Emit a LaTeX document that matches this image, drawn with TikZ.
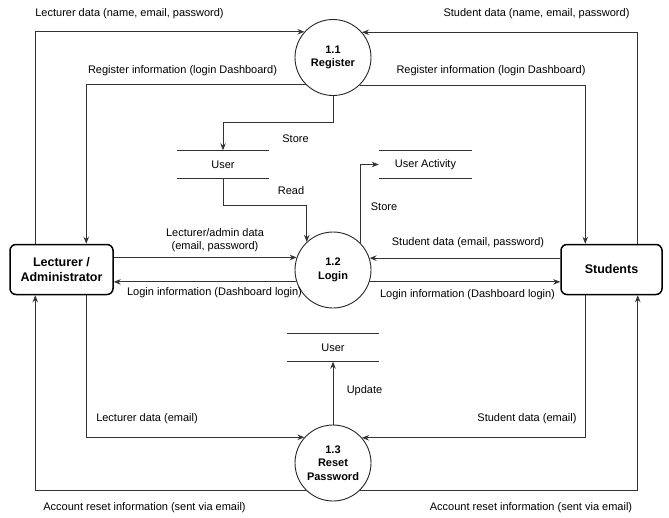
\documentclass[tikz,border=0pt]{standalone}
\usepackage{fontspec}
\setmainfont{Liberation Sans}
\usetikzlibrary{arrows.meta}
\begin{document}
\begin{tikzpicture}[x=1pt,y=-1pt,
  lbl/.style={font=\fontsize{11}{13}\selectfont, inner sep=0pt, align=center},
  entity/.style={draw, line width=1.5pt, rounded corners=6pt, align=center, inner sep=0pt,
    minimum height=50pt, font=\bfseries\fontsize{12.5}{15}\selectfont},
  proc/.style={circle, draw=black!85, line width=0.9pt, minimum size=76pt, inner sep=0pt,
    align=center, font=\bfseries\fontsize{11}{13.5}\selectfont},
  store/.style={minimum height=28pt, inner sep=0pt, font=\fontsize{11}{13}\selectfont},
  storeline/.style={draw=black!80, line width=0.9pt},
  flow/.style={draw=black!80, line width=0.9pt, -{Stealth[length=7pt,width=5.5pt]}},
  ]
\useasboundingbox (0,0) rectangle (669,517);

% external entities
\node[entity, minimum width=103pt] (lect) at (61.5,269.5) {Lecturer /\\Administrator};
\node[entity, minimum width=101pt] (stud) at (611.5,269.5) {Students};

% processes
\node[proc] (reg)   at (333,57.5) {1.1\\Register};
\node[proc] (login) at (333,270)  {1.2\\Login};
\node[proc] (reset) at (333,463)  {1.3\\Reset\\Password};

% data stores
\node[store, minimum width=92pt] (user1) at (223,164.5) {User};
\node[store, minimum width=93pt] (act)   at (425.5,164.5) {User Activity};
\node[store, minimum width=92pt] (user2) at (333,347.5) {User};
\foreach \s in {user1,act,user2}
  \draw[storeline] (\s.north west) -- (\s.north east) (\s.south west) -- (\s.south east);

% registration flows
\draw[flow] ([xshift=26pt]lect.north west) |- (reg.138.5);
\draw[flow] ([xshift=-25pt]stud.north east) |- (reg.41.5);
\draw[flow] (reg.225.6) -| ([xshift=77pt]lect.north west);
\draw[flow] (reg.314.4) -| ([xshift=25pt]stud.north west);
\draw[flow] (reg.south) -- ++(0,26) -| (user1.north);

% login flows
\draw[flow] (user1.south) -- ++(0,27) -| (login.133);
\draw[flow] (lect.east |- login.161.6) -- (login.161.6);
\draw[flow] (login.198.4) -- (login.198.4 -| lect.east);
\draw[flow] (stud.west |- login.18.4) -- (login.18.4);
\draw[flow] (login.-18.4) -- (login.-18.4 -| stud.west);
\draw[flow] (login.44.7) |- (act.west);

% password reset flows
\draw[flow] (reset.north) -- (user2.south);
\draw[flow] ([xshift=77pt]lect.south west) |- (reset.138.9);
\draw[flow] ([xshift=25pt]stud.south west) |- (reset.41.1);
\draw[flow] (reset.225.3) -| ([xshift=26pt]lect.south west);
\draw[flow] (reset.314.7) -| ([xshift=-25pt]stud.south east);

% flow labels
\node[lbl] (t1)  at (129.5,14)  {Lecturer data (name, email, password)};
\node[lbl] (t2)  at (536.5,14)  {Student data (name, email, password)};
\node[lbl] (t3)  at (182.5,71)  {Register information (login Dashboard)};
\node[lbl] (t4)  at (491,71)    {Register information (login Dashboard)};
\node[lbl] (t5)  at (295.5,139) {Store};
\node[lbl] (t6)  at (291,191)   {Read};
\node[lbl, align=center] (t7) at (215,240) {Lecturer/admin data\\(email, password)};
\node[lbl] (t8)  at (214.5,293) {Login information (Dashboard login)};
\node[lbl] (t9)  at (384,207)   {Store};
\node[lbl] (t10) at (468,243)   {Student data (email, password)};
\node[lbl] (t11) at (467.5,295) {Login information (Dashboard login)};
\node[lbl] (t12) at (364.5,391) {Update};
\node[lbl] (t13) at (147,419)   {Lecturer data (email)};
\node[lbl] (t14) at (527,419)   {Student data (email)};
\node[lbl] (t15) at (144.5,508) {Account reset information (sent via email)};
\node[lbl] (t16) at (531,508)   {Account reset information (sent via email)};
\end{tikzpicture}
\end{document}
